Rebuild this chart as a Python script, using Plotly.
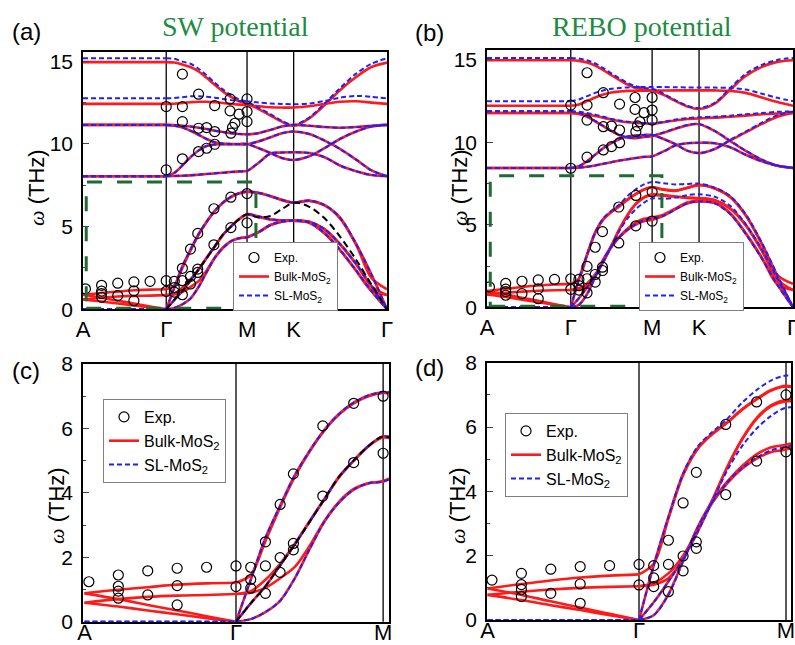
import plotly.graph_objects as go

# ---------------- path coordinates ----------------
A_POS = -1.03
XG = [0.0, 0.1, 0.2, 0.3, 0.4, 0.5, 0.6, 0.7, 0.8, 0.9, 1.0,
      1.14, 1.29, 1.43, 1.577, 1.77, 1.96, 2.15, 2.35, 2.54, 2.732]
XA = [-1.03, -0.8, -0.6, -0.4, -0.2, 0.0]
TOP_TICKS = [-1.03, 0.0, 1.0, 1.577, 2.732]
TOP_LABELS = ["A", "Γ", "M", "K", "Γ"]
BOT_TICKS = [-1.03, 0.0, 1.0]
BOT_LABELS = ["A", "Γ", "M"]

# ---------------- SW potential : single layer (blue) ----------------
SW_SL_O6 = [15.18, 15.15, 14.98, 14.85, 14.55, 14.15, 13.7, 13.3, 12.95, 12.7, 12.55, 12.2, 11.8, 11.4, 11.15, 11.6, 12.45, 13.37, 14.25, 14.85, 15.18]
SW_SL_O5 = [12.76, 12.78, 12.83, 12.88, 12.88, 12.85, 12.8, 12.72, 12.65, 12.6, 12.58, 12.5, 12.45, 12.42, 12.4, 12.45, 12.6, 12.8, 12.9, 12.85, 12.76]
SW_SL_O4 = [11.15, 11.14, 11.1, 11.05, 10.98, 10.9, 10.8, 10.72, 10.65, 10.6, 10.58, 10.65, 10.85, 11.05, 11.15, 11.1, 11.02, 10.98, 11.02, 11.1, 11.15]
SW_SL_O3 = [11.15, 11.1, 11.0, 10.8, 10.55, 10.3, 10.1, 10.02, 10.0, 10.0, 10.0, 9.75, 9.45, 9.15, 9.03, 9.25, 9.75, 10.3, 10.75, 11.05, 11.15]
SW_SL_O2 = [8.05, 8.25, 8.7, 9.2, 9.6, 9.88, 9.97, 9.98, 9.98, 9.98, 9.98, 10.15, 10.4, 10.65, 10.75, 10.6, 10.2, 9.7, 9.05, 8.4, 8.05]
SW_SL_O1 = [8.05, 8.06, 8.08, 8.1, 8.14, 8.18, 8.22, 8.26, 8.3, 8.34, 8.37, 8.85, 9.42, 9.48, 9.5, 9.45, 9.2, 8.7, 8.35, 8.12, 8.05]
SW_SL_LA = [0.0, 1.3, 2.6, 3.6, 4.55, 5.3, 5.95, 6.45, 6.8, 7.02, 7.12, 7.05, 6.85, 6.62, 6.45, 6.58, 6.3, 5.55, 3.95, 2.1, 0.0]
SW_SL_TA = [0.0, 0.57, 1.1, 1.75, 2.4, 3.1, 3.8, 4.5, 5.0, 5.45, 5.75, 5.62, 5.45, 5.38, 5.37, 5.3, 4.85, 3.95, 2.75, 1.4, 0.0]
SW_SL_ZA = [0.0, 0.08, 0.3, 0.65, 1.35, 2.25, 3.1, 3.7, 4.1, 4.3, 4.35, 4.65, 5.1, 5.3, 5.37, 5.25, 4.6, 3.6, 2.35, 1.1, 0.0]
SW_BLACK = [0.0, 0.57, 1.1, 1.75, 2.4, 3.1, 3.8, 4.5, 5.0, 5.45, 5.75, 5.55, 5.65, 6.05, 6.45, 6.2, 5.5, 4.4, 3.0, 1.5, 0.0]

# ---------------- SW potential : bulk (red) ----------------
SW_BK_O6 = [14.95, 14.92, 14.8, 14.65, 14.38, 14.0, 13.58, 13.18, 12.85, 12.58, 12.45, 12.12, 11.72, 11.35, 11.1, 11.55, 12.35, 13.25, 14.05, 14.65, 14.92]
SW_BK_O5 = [12.42, 12.43, 12.48, 12.52, 12.55, 12.55, 12.52, 12.48, 12.42, 12.38, 12.35, 12.28, 12.22, 12.2, 12.2, 12.28, 12.42, 12.55, 12.58, 12.5, 12.42]
SW_BK_E1 = [1.21, 1.45, 2.5, 3.55, 4.5, 5.28, 5.93, 6.43, 6.78, 7.0, 7.1, 7.03, 6.83, 6.6, 6.43, 6.55, 6.28, 5.5, 3.9, 1.9, 1.21]
SW_BK_E2 = [0.86, 0.95, 1.3, 1.8, 2.42, 3.12, 3.8, 4.48, 5.0, 5.45, 5.72, 5.58, 5.42, 5.36, 5.35, 5.28, 4.82, 3.92, 2.72, 1.4, 0.86]
SW_BK_E3 = [0.86, 0.9, 1.05, 1.35, 1.7, 2.35, 3.12, 3.72, 4.12, 4.3, 4.37, 4.67, 5.1, 5.3, 5.36, 5.23, 4.58, 3.58, 2.33, 1.15, 0.86]
SW_AG_1 = [0.88, 0.99, 1.07, 1.15, 1.19, 1.21]
SW_AG_2 = [0.88, 0.7, 0.52, 0.35, 0.17, 0.0]
SW_AG_3 = [0.59, 0.7, 0.77, 0.81, 0.83, 0.86]
SW_AG_4 = [0.59, 0.47, 0.35, 0.23, 0.11, 0.0]

# ---------------- REBO potential : single layer (blue) ----------------
RB_SL_O6 = [15.12, 15.08, 14.98, 14.78, 14.5, 14.18, 13.88, 13.6, 13.4, 13.3, 13.25, 12.95, 12.55, 12.22, 12.08, 12.4, 13.3, 14.15, 14.7, 15.0, 15.12]
RB_SL_O5 = [12.5, 12.6, 12.8, 13.0, 13.15, 13.25, 13.3, 13.33, 13.35, 13.35, 13.35, 13.35, 13.34, 13.33, 13.32, 13.32, 13.3, 13.2, 12.95, 12.7, 12.5]
RB_SL_O4 = [11.88, 11.85, 11.78, 11.68, 11.55, 11.42, 11.32, 11.25, 11.2, 11.17, 11.15, 11.25, 11.38, 11.47, 11.52, 11.56, 11.62, 11.7, 11.78, 11.85, 11.88]
RB_SL_O3 = [11.88, 11.8, 11.6, 11.3, 11.0, 10.7, 10.45, 10.3, 10.28, 10.35, 10.4, 10.6, 10.85, 11.05, 11.12, 10.7, 10.1, 9.5, 8.95, 8.6, 8.45]
RB_SL_O2 = [8.45, 8.55, 8.85, 9.25, 9.65, 9.95, 10.2, 10.35, 10.42, 10.45, 10.45, 10.2, 9.88, 9.5, 9.35, 9.6, 10.15, 10.65, 11.2, 11.65, 11.88]
RB_SL_O1 = [8.45, 8.47, 8.52, 8.6, 8.7, 8.8, 8.9, 8.98, 9.05, 9.12, 9.15, 9.45, 9.82, 9.95, 9.98, 9.95, 9.7, 9.25, 8.85, 8.58, 8.45]
RB_SL_LA = [0.0, 1.7, 3.2, 4.55, 5.4, 5.85, 6.25, 6.75, 7.15, 7.45, 7.6, 7.52, 7.45, 7.48, 7.5, 7.25, 6.75, 5.65, 3.9, 1.95, 0.0]
RB_SL_TA = [0.0, 0.55, 1.2, 1.9, 2.75, 3.7, 4.65, 5.4, 5.95, 6.35, 6.6, 6.58, 6.65, 6.8, 6.85, 6.7, 6.15, 5.05, 3.5, 1.75, 0.0]
RB_SL_ZA = [0.0, 0.15, 0.78, 1.82, 2.88, 3.68, 4.28, 4.72, 5.05, 5.28, 5.38, 5.55, 5.95, 6.3, 6.42, 6.3, 5.65, 4.45, 2.95, 1.35, 0.0]

# ---------------- REBO potential : bulk (red) ----------------
RB_BK_O6 = [14.98, 14.94, 14.84, 14.65, 14.38, 14.07, 13.78, 13.5, 13.3, 13.2, 13.15, 12.88, 12.5, 12.18, 12.02, 12.35, 13.2, 14.02, 14.58, 14.88, 14.98]
RB_BK_O5 = [12.22, 12.3, 12.5, 12.72, 12.9, 13.02, 13.08, 13.12, 13.13, 13.13, 13.13, 13.14, 13.15, 13.15, 13.15, 13.15, 13.12, 13.0, 12.72, 12.45, 12.22]
RB_BK_O4 = [11.78, 11.75, 11.7, 11.6, 11.5, 11.38, 11.28, 11.22, 11.18, 11.15, 11.13, 11.22, 11.33, 11.42, 11.45, 11.5, 11.55, 11.62, 11.7, 11.75, 11.78]
RB_BK_O3 = [11.78, 11.72, 11.55, 11.28, 10.98, 10.68, 10.43, 10.28, 10.26, 10.33, 10.38, 10.58, 10.83, 11.03, 11.1, 10.68, 10.08, 9.48, 8.93, 8.58, 8.45]
RB_BK_O2 = [8.45, 8.55, 8.85, 9.25, 9.65, 9.95, 10.2, 10.35, 10.42, 10.45, 10.45, 10.2, 9.88, 9.5, 9.35, 9.6, 10.12, 10.6, 11.12, 11.55, 11.78]
RB_BK_LA = [0.0, 1.7, 3.2, 4.55, 5.35, 5.8, 6.15, 6.55, 6.88, 7.15, 7.28, 7.15, 7.08, 7.25, 7.42, 7.22, 6.7, 5.6, 3.85, 1.9, 0.0]
RB_BK_TA = [0.0, 0.55, 1.2, 1.9, 2.75, 3.72, 4.75, 5.62, 6.28, 6.68, 6.85, 6.8, 6.72, 6.65, 6.62, 6.5, 6.0, 5.0, 3.45, 1.7, 0.0]
RB_BK_ZA = [0.0, 0.15, 0.8, 1.85, 2.9, 3.7, 4.3, 4.78, 5.15, 5.37, 5.45, 5.62, 6.0, 6.35, 6.45, 6.35, 5.7, 4.5, 3.0, 1.4, 0.0]
RB_BK_E1 = [1.42, 1.75, 3.15, 4.5, 5.32, 5.78, 6.13, 6.53, 6.86, 7.13, 7.26, 7.13, 7.06, 7.23, 7.4, 7.2, 6.68, 5.58, 3.82, 1.95, 1.42]
RB_BK_E2 = [1.05, 1.15, 1.45, 2.0, 2.8, 3.75, 4.75, 5.6, 6.25, 6.65, 6.8, 6.76, 6.7, 6.63, 6.6, 6.48, 5.98, 4.98, 3.42, 1.68, 1.05]
RB_BK_E3 = [1.05, 1.1, 1.3, 1.9, 2.85, 3.65, 4.25, 4.7, 5.02, 5.22, 5.3, 5.55, 5.95, 6.3, 6.42, 6.32, 5.68, 4.48, 2.98, 1.38, 1.05]
RB_AG_1 = [0.98, 1.12, 1.23, 1.32, 1.38, 1.42]
RB_AG_2 = [0.98, 0.78, 0.58, 0.39, 0.19, 0.0]
RB_AG_3 = [0.78, 0.88, 0.95, 1.0, 1.03, 1.05]
RB_AG_4 = [0.78, 0.62, 0.46, 0.31, 0.15, 0.0]

# ---------------- experiment ----------------
EXP_LOW_X = [-1.0, -0.8, -0.8, -0.8, -0.8, -0.6, -0.6, -0.4, -0.4, -0.4, -0.2, 0.0, 0.0,
             0.1, 0.1, 0.1, 0.2, 0.2, 0.2, 0.3, 0.3, 0.3, 0.39, 0.39, 0.39, 0.59, 0.59, 0.8, 0.8, 1.0, 1.0]
EXP_LOW_Y = [1.24, 1.45, 1.1, 0.95, 0.73, 1.58, 0.83, 1.66, 1.12, 0.52, 1.69, 1.73, 1.09,
             1.69, 1.31, 1.04, 2.48, 1.73, 0.88, 3.64, 1.99, 1.53, 4.59, 2.43, 2.23, 6.08, 3.9, 6.78, 4.94, 7.0, 5.23]
EXP_UP_X = [0.0, 0.0, 0.2, 0.2, 0.2, 0.2, 0.4, 0.4, 0.4, 0.5, 0.5, 0.6, 0.6, 0.6,
            0.79, 0.79, 0.8, 0.82, 0.85, 0.9, 1.0, 1.0, 1.0]
EXP_UP_Y = [12.26, 8.43, 14.22, 12.26, 11.35, 9.1, 13.01, 10.95, 9.54, 10.99, 9.74, 12.32, 10.75, 9.98,
            12.72, 12.0, 10.65, 11.0, 11.25, 11.8, 12.72, 11.96, 11.35]

RED = "#ff1a1a"
BLUE = "#1f1fff"
GREEN_TXT = "#1d8c42"
GREEN_BOX = "#1f6b33"
BLUE_DASH = "5px,3px"

fig = go.Figure()


def lines(xs_list, ys_list, color, width, dash, xa, ya):
    X, Y = [], []
    for xs, ys in zip(xs_list, ys_list):
        X += list(xs) + [None]
        Y += list(ys) + [None]
    fig.add_trace(go.Scatter(x=X, y=Y, mode="lines", xaxis=xa, yaxis=ya,
                             line=dict(color=color, width=width, dash=dash, shape="spline", smoothing=0.9),
                             showlegend=False, hoverinfo="skip"))


def panel(xa, ya, sl, bk, bk_ag, black=None, upper=True):
    sl_use = sl if upper else sl[-3:]
    bk_use = bk if upper else bk[-6:]
    red_x = [XG] * len(bk_use) + [XA] * len(bk_ag)
    red_y = list(bk_use) + list(bk_ag)
    if upper:
        for b in bk[:6]:
            red_x.append([A_POS, 0.0])
            red_y.append([b[0], b[0]])
    lines(red_x, red_y, RED, 2.6, "solid", xa, ya)
    blue_x = [XG] * len(sl_use)
    blue_y = list(sl_use)
    for b in sl_use:
        blue_x.append([A_POS, 0.0])
        blue_y.append([b[0], b[0]])
    lines(blue_x, blue_y, BLUE, 2.0, BLUE_DASH, xa, ya)
    if black is not None:
        lines([XG], [black], "black", 2.0, "7px,4px", xa, ya)
    ex = EXP_LOW_X + (EXP_UP_X if upper else [])
    ey = EXP_LOW_Y + (EXP_UP_Y if upper else [])
    fig.add_trace(go.Scatter(x=ex, y=ey, mode="markers", xaxis=xa, yaxis=ya,
                             marker=dict(symbol="circle-open", size=10, color="black", line=dict(width=1.2)),
                             showlegend=False, hoverinfo="skip"))


SW_SL = [SW_SL_O1, SW_SL_O2, SW_SL_O3, SW_SL_O4, SW_SL_O5, SW_SL_O6, SW_SL_LA, SW_SL_TA, SW_SL_ZA]
SW_BK = [SW_SL_O1, SW_SL_O2, SW_SL_O3, SW_SL_O4, SW_BK_O5, SW_BK_O6,
         SW_SL_LA, SW_SL_TA, SW_SL_ZA, SW_BK_E1, SW_BK_E2, SW_BK_E3]
SW_AG = [SW_AG_1, SW_AG_2, SW_AG_3, SW_AG_4]
RB_SL = [RB_SL_O1, RB_SL_O2, RB_SL_O3, RB_SL_O4, RB_SL_O5, RB_SL_O6, RB_SL_LA, RB_SL_TA, RB_SL_ZA]
RB_BK = [RB_SL_O1, RB_BK_O2, RB_BK_O3, RB_BK_O4, RB_BK_O5, RB_BK_O6,
         RB_BK_LA, RB_BK_TA, RB_BK_ZA, RB_BK_E1, RB_BK_E2, RB_BK_E3]
RB_AG = [RB_AG_1, RB_AG_2, RB_AG_3, RB_AG_4]

panel("x", "y", SW_SL, SW_BK, SW_AG, black=SW_BLACK, upper=True)
panel("x2", "y2", RB_SL, RB_BK, RB_AG, black=None, upper=True)
panel("x3", "y3", SW_SL, SW_BK, SW_AG, black=SW_BLACK, upper=False)
panel("x4", "y4", RB_SL, RB_BK, RB_AG, black=None, upper=False)

# legends
LEG = ["legend", "legend2", "legend3", "legend4"]
for lg in LEG:
    fig.add_trace(go.Scatter(x=[None], y=[None], mode="markers", name="Exp.", legend=lg,
                             marker=dict(symbol="circle-open", size=10, color="black", line=dict(width=1.2))))
    fig.add_trace(go.Scatter(x=[None], y=[None], mode="lines", name="Bulk-MoS<sub>2</sub>", legend=lg,
                             line=dict(color=RED, width=2.6)))
    fig.add_trace(go.Scatter(x=[None], y=[None], mode="lines", name="SL-MoS<sub>2</sub>", legend=lg,
                             line=dict(color=BLUE, width=2.0, dash=BLUE_DASH)))

W, H = 795, 645


def px_x(p):
    return p / W


def px_y(p):
    return 1 - p / H


def leg(xp, yp, fs):
    return dict(x=px_x(xp), y=px_y(yp), xanchor="left", yanchor="top", bgcolor="white",
                bordercolor="#7f7f7f", borderwidth=1, font=dict(family="Liberation Sans", size=fs, color="black"),
                tracegroupgap=0, itemwidth=30)


def xaxis(dom, rng, tv, tt, anchor, standoff):
    return dict(domain=dom, range=rng, tickvals=tv, ticktext=tt, ticks="", showgrid=False, zeroline=False,
                showline=True, linecolor="black", linewidth=1.5, mirror=True, anchor=anchor,
                automargin=False, ticklabelstandoff=standoff, ticklabeloverflow="allow",
                tickfont=dict(family="Liberation Sans", size=22, color="black"))


def yaxis(dom, rng, tv, anchor, minor_dt):
    return dict(domain=dom, range=rng, tickvals=tv, ticks="inside", ticklen=6, tickwidth=1.2,
                showgrid=False, zeroline=False, showline=True, linecolor="black", linewidth=1.5, mirror=True,
                anchor=anchor, automargin=False, ticklabelstandoff=4, ticklabeloverflow="allow",
                minor=dict(ticks="inside", ticklen=3, dtick=minor_dt, tickwidth=1),
                tickfont=dict(family="Liberation Sans", size=21, color="black"))


shapes = []
for xr, yr, xs in [("x", "y", [0.0, 1.0, 1.577]), ("x2", "y2", [0.0, 1.0, 1.577]),
                   ("x3", "y3", [0.0, 1.0]), ("x4", "y4", [0.0, 1.0])]:
    for xv in xs:
        shapes.append(dict(type="line", xref=xr, yref=yr + " domain", x0=xv, x1=xv, y0=0, y1=1,
                           line=dict(color="black", width=1.3), layer="below"))
shapes.append(dict(type="rect", xref="x", yref="y", x0=-0.99, x1=1.11, y0=0.06, y1=7.7,
                   line=dict(color=GREEN_BOX, width=3, dash="longdash")))
shapes.append(dict(type="rect", xref="x2", yref="y2", x0=-0.99, x1=1.12, y0=0.06, y1=7.98,
                   line=dict(color=GREEN_BOX, width=3, dash="longdash")))

ytitle = '<span style="font-family:Liberation Serif"><i>ω</i></span> (THz)'
annotations = []
for txt, xp, yp in [("(a)", 10, 31), ("(b)", 413, 33), ("(c)", 10, 370), ("(d)", 413, 367)]:
    annotations.append(dict(text=txt, x=px_x(xp), y=px_y(yp), xref="paper", yref="paper",
                            xanchor="left", yanchor="middle", showarrow=False,
                            font=dict(family="Liberation Sans", size=24, color="black")))
for txt, xp in [("SW potential", 235), ("REBO potential", 642)]:
    annotations.append(dict(text=txt, x=px_x(xp), y=px_y(27), xref="paper", yref="paper",
                            xanchor="center", yanchor="middle", showarrow=False,
                            font=dict(family="Liberation Serif", size=28, color=GREEN_TXT)))
for xp, yp in [(37, 188), (460, 188), (56, 506), (457, 506)]:
    annotations.append(dict(text=ytitle, x=px_x(xp), y=px_y(yp), xref="paper", yref="paper",
                            xanchor="center", yanchor="middle", showarrow=False, textangle=-90,
                            font=dict(family="Liberation Sans", size=22, color="black")))

fig.update_layout(
    width=W, height=H, margin=dict(l=0, r=0, t=0, b=0, autoexpand=False),
    paper_bgcolor="white", plot_bgcolor="white",
    font=dict(family="Liberation Sans", color="black"),
    xaxis=xaxis([px_x(83), px_x(387)], [-1.03, 2.732], TOP_TICKS, TOP_LABELS, "y", 0),
    xaxis2=xaxis([px_x(487), px_x(793)], [-1.03, 2.732], TOP_TICKS, TOP_LABELS, "y2", 0),
    xaxis3=xaxis([px_x(83), px_x(389)], [-1.04, 1.04], BOT_TICKS, BOT_LABELS, "y3", -10),
    xaxis4=xaxis([px_x(487), px_x(791)], [-1.034, 1.034], BOT_TICKS, BOT_LABELS, "y4", -10),
    yaxis=yaxis([px_y(309.3), px_y(52)], [0, 15.56], [0, 5, 10, 15], "x", 2.5),
    yaxis2=yaxis([px_y(307.3), px_y(50)], [0, 15.6], [0, 5, 10, 15], "x2", 2.5),
    yaxis3=yaxis([px_y(621.7), px_y(364)], [0, 8], [0, 2, 4, 6, 8], "x3", 1),
    yaxis4=yaxis([px_y(620), px_y(362.7)], [0, 8], [0, 2, 4, 6, 8], "x4", 1),
    legend=leg(233, 242, 12), legend2=leg(639, 242, 12),
    legend3=leg(103, 399, 16), legend4=leg(505, 413, 16),
    shapes=shapes, annotations=annotations,
)

fig.write_html("out.html", config={"displayModeBar": False},
               post_script="document.body.style.margin='0';document.body.style.overflow='hidden';")
